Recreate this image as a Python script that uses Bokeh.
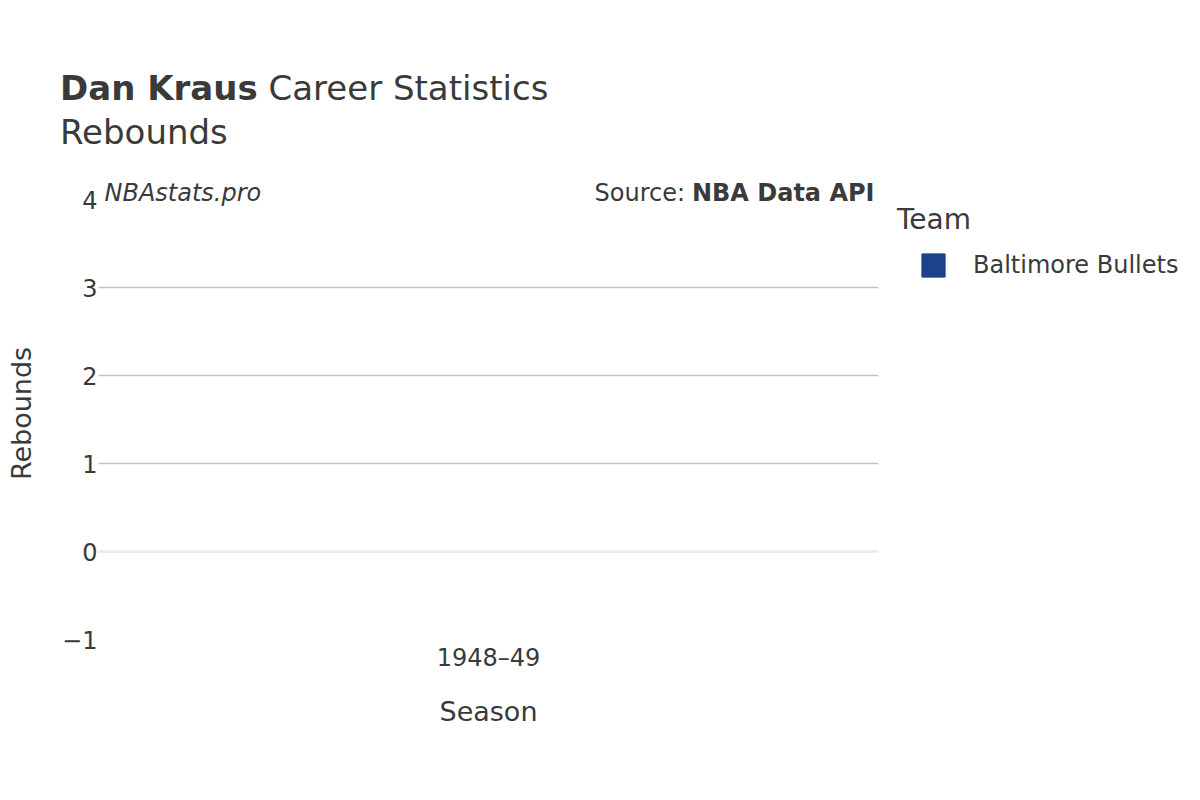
from bokeh.plotting import figure
from bokeh.layouts import column
from bokeh.models import (ColumnDataSource, Label, Legend, LegendItem, FixedTicker,
                          Span, Range1d, FactorRange, Div)
from bokeh.embed import file_html
from bokeh.resources import INLINE

# ---- data ----
player = "Dan Kraus"
stat = "Rebounds"
seasons = ["1948–49"]
rebounds = [1.5]
team = "Baltimore Bullets"
team_color = "#1d428a"
y_ticks = [-1, 0, 1, 2, 3, 4]
grid_ticks = [1, 2, 3]

FONT = "DejaVu Sans"
TXT = "#3a3a3a"
HEAD_H = 160                      # height of the heading block (page px)
FL, FR, FT, FB = 98, 878, 180, 646   # plot frame edges in page pixels
PX_PER_UNIT = 88.0
ZERO_Y = 551.0

head = Div(text=(
    f'<div style="padding:66px 0 0 60px;font-family:\'{FONT}\';font-size:34px;'
    f'line-height:44px;color:{TXT};white-space:nowrap;">'
    f'<b>{player}</b> Career Statistics<br>{stat}</div>'),
    width=1200, height=HEAD_H, margin=0)

p = figure(frame_width=FR - FL, frame_height=FB - FT,
           output_backend="svg", toolbar_location=None,
           x_range=FactorRange(*seasons),
           y_range=Range1d(-(FB - ZERO_Y) / PX_PER_UNIT, (ZERO_Y - FT) / PX_PER_UNIT),
           min_border_left=FL, min_border_right=1200 - FR,
           min_border_top=FT - HEAD_H, min_border_bottom=800 - FB, margin=0)
p.outline_line_color = None
p.background_fill_color = "white"
p.border_fill_color = "white"

src = ColumnDataSource(dict(season=seasons, reb=rebounds))
p.line("season", "reb", source=src, line_color=team_color, line_width=2)
sc = p.scatter("season", "reb", source=src, marker="square", size=0,
               fill_color=team_color, line_color=team_color)

# axes
p.yaxis.ticker = FixedTicker(ticks=y_ticks)
p.xgrid.visible = False
p.ygrid.ticker = FixedTicker(ticks=grid_ticks)
p.ygrid.grid_line_color = "#c2c2c2"
p.ygrid.grid_line_width = 1.5
p.add_layout(Span(location=0, dimension="width", line_color="#ececec", line_width=3))

for ax in (p.xaxis[0], p.yaxis[0]):
    ax.axis_line_color = None
    ax.major_tick_line_color = None
    ax.minor_tick_line_color = None
    ax.major_tick_out = 0
    ax.major_tick_in = 0
    ax.minor_tick_out = 0
    ax.major_label_text_font = FONT
    ax.major_label_text_font_size = "24px"
    ax.major_label_text_color = TXT
    ax.axis_label_text_font = FONT
    ax.axis_label_text_font_size = "27px"
    ax.axis_label_text_font_style = "normal"
    ax.axis_label_text_color = TXT
p.yaxis.axis_label = stat
p.xaxis.axis_label = "Season"
p.yaxis.major_label_standoff = 1
p.yaxis.axis_label_standoff = 22
p.xaxis.major_label_standoff = -3
p.xaxis.axis_label_standoff = 21


def lab(text, px, py, size, style="normal", align="left"):
    # px, py: page coordinates (text centre line); screen units are frame-relative
    p.add_layout(Label(x=px - FL, y=FB - py, x_units="screen", y_units="screen",
                       text=text, text_font=FONT, text_font_size=size,
                       text_font_style=style, text_color=TXT,
                       text_align=align, text_baseline="middle"))


lab("NBAstats.pro", 104, 192, "24px", "italic")
lab("Source: ", 594, 192, "24px")
lab("NBA Data API", 874, 192, "24px", "bold", "right")

legend = Legend(items=[LegendItem(label=team, renderers=[sc])],
                location=(19, 352), title="Team",
                title_text_font=FONT, title_text_font_size="28px",
                title_text_color=TXT, title_text_font_style="normal",
                label_text_font=FONT, label_text_font_size="24px",
                label_text_color=TXT, glyph_width=72, glyph_height=58,
                label_standoff=4, padding=0, margin=0, spacing=0,
                border_line_color=None, background_fill_alpha=0,
                title_standoff=-18)
p.add_layout(legend, "right")

layout = column(head, p, spacing=0, margin=0)
open("out.html", "w").write(file_html(layout, INLINE))
